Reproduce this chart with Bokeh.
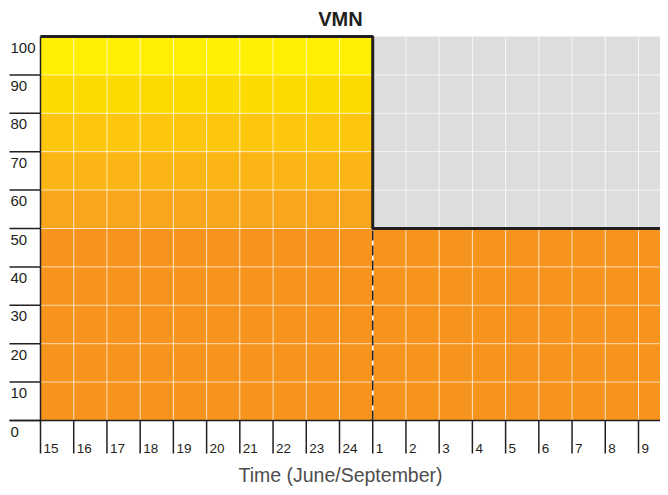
from bokeh.plotting import figure
from bokeh.models import Range1d
from bokeh.core.properties import value
from bokeh.embed import file_html
from bokeh.resources import INLINE

# ---------------- data ----------------
title_text = "VMN"
x_axis_title = "Time (June/September)"
day_labels = ["15", "16", "17", "18", "19", "20", "21", "22", "23", "24",
              "1", "2", "3", "4", "5", "6", "7", "8", "9"]
vmn_values = [100, 100, 100, 100, 100, 100, 100, 100, 100, 100,
              50, 50, 50, 50, 50, 50, 50, 50, 50]
y_ticks = [0, 10, 20, 30, 40, 50, 60, 70, 80, 90, 100]
band_edges = [0, 50, 60, 70, 80, 90, 100]

# ---------------- style ----------------
band_colors = ["#F7941E", "#F9A61D", "#FBB616", "#FDC70E", "#FEDB00", "#FFEF00"]
gray_color = "#DCDDDE"
ink = "#231F20"
FONT = "Liberation Sans"

W, H = 660, 487
PX = 33.222   # pixels per x unit
PY = 3.84     # pixels per y unit
x_start = -40 / PX
x_end = x_start + W / PX
y_end = 100 + 36 / PY
y_start = y_end - H / PY


def dx(px):
    return px / PX


def dy(px):
    return px / PY


p = figure(width=W, height=H, output_backend="svg", toolbar_location=None,
           x_range=Range1d(x_start, x_end), y_range=Range1d(y_start, y_end),
           x_axis_location=None, y_axis_location=None, min_border=0)
p.outline_line_color = None
p.grid.visible = False
p.background_fill_color = "white"
p.border_fill_color = "white"

n = len(vmn_values)
idx = list(range(n))
top = max(y_ticks)

# ---- filled bands ----
ql, qr, qb, qt, qc = [], [], [], [], []
for i, v in enumerate(vmn_values):
    for k in range(len(band_colors)):
        lo, hi = band_edges[k], band_edges[k + 1]
        if lo < v:
            ql.append(i); qr.append(i + 1); qb.append(lo); qt.append(min(hi, v)); qc.append(band_colors[k])
    if v < top:
        ql.append(i); qr.append(i + 1); qb.append(v); qt.append(top); qc.append(gray_color)
p.quad(left=ql, right=qr, bottom=qb, top=qt, fill_color=qc, line_color=None)

# ---- white grid ----
p.segment(x0=idx[1:], y0=[0] * (n - 1), x1=idx[1:], y1=[top] * (n - 1),
          line_color="white", line_alpha=0.65, line_width=1)
gy = [t for t in y_ticks if 0 < t < top]
p.segment(x0=[0] * len(gy), y0=gy, x1=[x_end] * len(gy), y1=gy,
          line_color="white", line_alpha=0.65, line_width=1)

# ---- dashed line where value changes ----
for i in range(1, n):
    if vmn_values[i] != vmn_values[i - 1]:
        lo = min(vmn_values[i], vmn_values[i - 1])
        p.line([i, i], [0, lo], line_color="white", line_width=1.5)
        p.line([i, i], [0, lo], line_color=ink, line_width=1.5, line_dash="10 5")

# ---- step line ----
sx = idx + [n]
sy = vmn_values + [vmn_values[-1]]
p.step(sx, sy, mode="after", line_color=ink, line_width=3)

# ---- axes ----
p.line([0, 0], [0, top], line_color=ink, line_width=1.5)
p.line([-dx(31), x_end], [0, 0], line_color=ink, line_width=1.5)
ty = [t for t in y_ticks if t < top]
p.segment(x0=[-dx(31)] * len(ty), y0=ty, x1=[0] * len(ty), y1=ty, line_color=ink, line_width=1.5)
p.text(x=[-dx(30)] * len(y_ticks), y=[t - dy(11) for t in y_ticks], text=[str(t) for t in y_ticks],
       text_font=value(FONT), text_font_size="15px", text_color=ink,
       text_align="left", text_baseline="alphabetic")

p.segment(x0=idx, y0=[0] * n, x1=idx, y1=[-dy(33)] * n, line_color=ink, line_width=1.5)
p.text(x=[i + dx(3) for i in idx], y=[-dy(28)] * n, text=day_labels,
       text_font=value(FONT), text_font_size="13.5px", text_color=ink,
       text_align="left", text_baseline="alphabetic")

# ---- titles ----
cx = x_start + dx(340)
p.text(x=[cx], y=[y_end - dy(18)], text=[title_text], text_font=value(FONT),
       text_font_size="20px", text_font_style="bold", text_color=ink,
       text_align="center", text_baseline="alphabetic")
p.text(x=[cx], y=[y_end - dy(474)], text=[x_axis_title], text_font=value(FONT),
       text_font_size="19.5px", text_color="#4D4D4D",
       text_align="center", text_baseline="alphabetic")

open("out.html", "w").write(file_html(p, INLINE))
